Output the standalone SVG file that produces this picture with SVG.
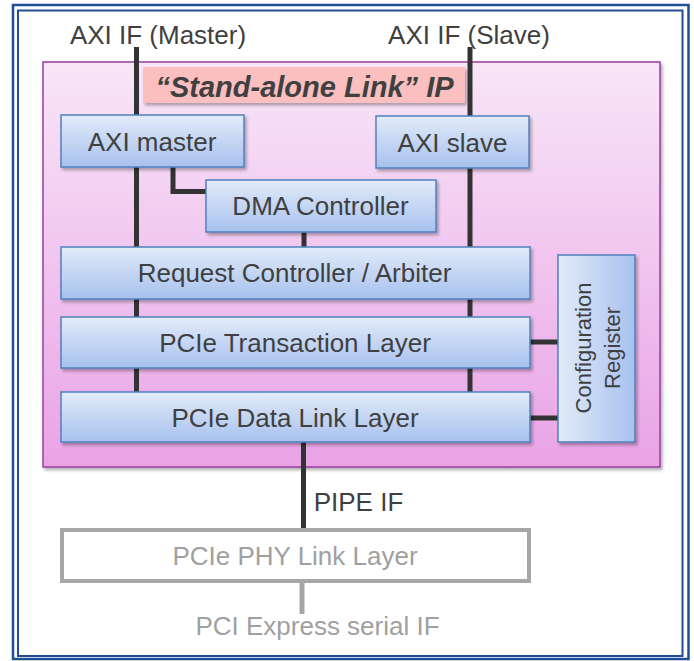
<svg xmlns="http://www.w3.org/2000/svg" width="694" height="661" viewBox="0 0 694 661">
<defs>
  <linearGradient id="gPink" x1="0" y1="0" x2="0" y2="1">
    <stop offset="0" stop-color="#f8e6f8"/>
    <stop offset="1" stop-color="#e9a3e6"/>
  </linearGradient>
  <linearGradient id="gBlue" x1="0" y1="0" x2="0" y2="1">
    <stop offset="0" stop-color="#e2ebf9"/>
    <stop offset="1" stop-color="#a7c1ee"/>
  </linearGradient>
  <linearGradient id="gBlueH" x1="0" y1="0" x2="1" y2="0">
    <stop offset="0" stop-color="#e2ebf9"/>
    <stop offset="1" stop-color="#a7c1ee"/>
  </linearGradient>
  <filter id="sh" x="-10%" y="-10%" width="130%" height="140%">
    <feDropShadow dx="2" dy="2.5" stdDeviation="1.5" flood-color="#000" flood-opacity="0.3"/>
  </filter>
  <style>
    .frame { fill: none; stroke: #1f4e96; }
    .blk { fill: url(#gBlue); stroke: #4f81bd; stroke-width: 1.5; filter: url(#sh); }
    .txt { font-family: "Liberation Sans", Arial, sans-serif; font-size: 26px; fill: #404040; text-anchor: middle; }
    .wire { stroke: #333333; stroke-width: 5; fill: none; }
    .gwire { stroke: #a6a6a6; stroke-width: 5; fill: none; }
    .gray { fill: #a0a0a0; }
  </style>
</defs>

<rect x="0" y="0" width="694" height="661" fill="#ffffff"/>

<!-- outer double frame -->
<rect class="frame" x="13" y="5" width="675.5" height="654" stroke-width="2.5"/>
<rect class="frame" x="18" y="10.5" width="664.5" height="645.5" stroke-width="2"/>

<!-- IP container -->
<g id="ip">
  <rect x="43" y="62" width="617" height="405" fill="url(#gPink)" stroke="#9d3ba3" stroke-width="1.5" filter="url(#sh)"/>
</g>

<!-- interface labels -->
<text class="txt" x="158" y="44">AXI IF (Master)</text>
<text class="txt" x="469" y="44">AXI IF (Slave)</text>

<!-- connectors -->
<g id="connectors">
  <line class="wire" x1="136.5" y1="47" x2="136.5" y2="393"/>
  <line class="wire" x1="470" y1="47" x2="470" y2="393"/>
  <polyline class="wire" points="173,167 173,191.5 207,191.5"/>
  <line class="wire" x1="304" y1="231" x2="304" y2="248"/>
  <line class="wire" x1="529" y1="342" x2="559" y2="342"/>
  <line class="wire" x1="529" y1="418" x2="559" y2="418"/>
  <line class="wire" x1="303.5" y1="441" x2="303.5" y2="529"/>
  <line class="gwire" x1="302" y1="582" x2="302" y2="614"/>
</g>

<g id="title">
  <rect x="143" y="67" width="322" height="36" fill="#fbbfbf" filter="url(#sh)"/>
  <text x="304.5" y="97" font-family="'Liberation Sans', Arial, sans-serif" font-size="29" font-weight="bold" font-style="italic" fill="#404040" text-anchor="middle">“Stand-alone Link” IP</text>
</g>

<g id="axi-master">
  <rect class="blk" x="61" y="115" width="183" height="52"/>
  <text class="txt" x="152" y="151">AXI master</text>
</g>

<g id="axi-slave">
  <rect class="blk" x="376" y="116" width="153" height="52"/>
  <text class="txt" x="452.5" y="152">AXI slave</text>
</g>

<g id="dma">
  <rect class="blk" x="206" y="180" width="230" height="52"/>
  <text class="txt" x="320.5" y="215">DMA Controller</text>
</g>

<g id="request">
  <rect class="blk" x="61" y="247" width="469" height="52"/>
  <text class="txt" x="294.5" y="282">Request Controller / Arbiter</text>
</g>

<g id="transaction">
  <rect class="blk" x="61" y="317" width="469" height="51"/>
  <text class="txt" x="295" y="352">PCIe Transaction Layer</text>
</g>

<g id="datalink">
  <rect class="blk" x="61" y="392" width="469" height="50"/>
  <text class="txt" x="295" y="427">PCIe Data Link Layer</text>
</g>

<g id="config">
  <rect x="558" y="255" width="77" height="187" fill="url(#gBlueH)" stroke="#4f81bd" stroke-width="1.5" filter="url(#sh)"/>
  <text class="txt" style="font-size:22px" transform="translate(591,348) rotate(-90)">Configuration</text>
  <text class="txt" style="font-size:22px" transform="translate(620,348) rotate(-90)">Register</text>
</g>

<text class="txt" x="358.5" y="511">PIPE IF</text>

<g id="phy">
  <rect x="62" y="530" width="467" height="51" fill="#ffffff" stroke="#a6a6a6" stroke-width="4"/>
  <text class="txt gray" x="295" y="565">PCIe PHY Link Layer</text>
</g>

<text class="txt gray" x="317.5" y="635">PCI Express serial IF</text>
</svg>
